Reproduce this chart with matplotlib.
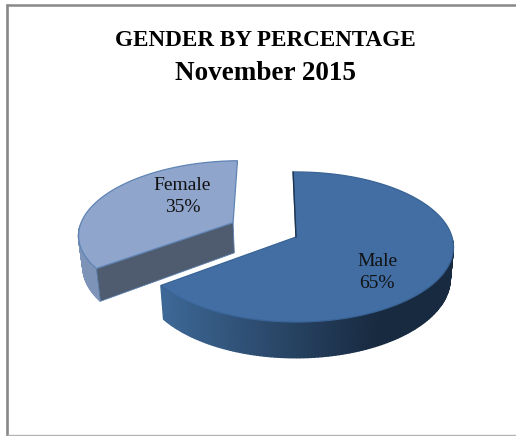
import numpy as np
import matplotlib
matplotlib.use("Agg")
import matplotlib.pyplot as plt
from matplotlib.patches import Polygon
from matplotlib.colors import to_rgb

categories = ["Male", "Female"]
values = [65, 35]
title_lines = ["GENDER BY PERCENTAGE", "November 2015"]

W, H = 516, 436
fig = plt.figure(figsize=(W / 100, H / 100), dpi=100)
ax = fig.add_axes([0, 0, 1, 1])
ax.set_xlim(0, W)
ax.set_ylim(H, 0)
ax.axis("off")
plt.rcParams["font.family"] = ["Liberation Serif", "DejaVu Serif"]

X0, Y0, A, B, K, DEPTH, EXPLODE, ROT = 296, 237, 73.7, 156, 0.133, 31, 0.46, -1.2


def project(u, v, drop=0.0):
    s = 1 / (1 + K * v)
    x = X0 + B * u * s
    y = Y0 - A * v * s
    return (X0 + (x - X0) * (1 - 0.02 * drop), y + DEPTH * s * drop)


def mix(a, b, t):
    a, b = np.array(to_rgb(a)), np.array(to_rgb(b))
    return tuple(a + (b - a) * t)


def wedge(start_frac, frac, explode):
    th = np.radians(np.linspace(start_frac * 360, (start_frac + frac) * 360, 200) + ROT)
    mid = np.radians((start_frac + frac / 2) * 360 + ROT)
    ox, oy = explode * np.sin(mid), explode * np.cos(mid)
    return ox, oy, ox + np.sin(th), oy + np.cos(th)


total = sum(values)
fracs = [v / total for v in values]

# Female slice (exploded)
ox, oy, us, vs = wedge(fracs[0], fracs[1], EXPLODE)
for i in range(len(us) - 1):
    if vs[i] - oy > -0.05:
        continue
    p = [project(us[i], vs[i]), project(us[i + 1], vs[i + 1]),
         project(us[i + 1], vs[i + 1], 1), project(us[i], vs[i], 1)]
    ax.add_patch(Polygon(p, closed=True, fc="#7E93B8", ec="#7E93B8", lw=1.0, zorder=2))
p = [project(ox, oy), project(us[0], vs[0]), project(us[0], vs[0], 1), project(ox, oy, 1)]
ax.add_patch(Polygon(p, closed=True, fc="#4F5B6F", ec="#5A7FAE", lw=0.6, zorder=3))
top_pts = [project(ox, oy)] + [project(u, v) for u, v in zip(us, vs)]
ax.add_patch(Polygon(top_pts, closed=True, fc="#8FA5CC", ec="#5F84B4", lw=0.9, zorder=4))

# Male slice
ox, oy, us, vs = wedge(0, fracs[0], 0)
xs = [project(u, v)[0] for u, v in zip(us, vs)]
xmin, xmax = min(xs), max(xs)
for i in range(len(us) - 1):
    if vs[i] > -0.05:
        continue
    t = (xs[i] - 166) / (xmax - 166)
    col = mix("#3D6795", "#182A40", min(1, max(0, t * 1.35)))
    p = [project(us[i], vs[i]), project(us[i + 1], vs[i + 1]),
         project(us[i + 1], vs[i + 1], 1), project(us[i], vs[i], 1)]
    ax.add_patch(Polygon(p, closed=True, fc=col, ec=col, lw=1.0, zorder=5))
top_pts = [project(ox, oy)] + [project(u, v) for u, v in zip(us, vs)]
ax.add_patch(Polygon(top_pts, closed=True, fc="#426EA4", ec="#3A6496", lw=0.9, zorder=6))
ax.plot([project(us[0], vs[0])[0], project(ox, oy)[0]],
        [project(us[0], vs[0])[1], project(ox, oy)[1]], color="#1F3550", lw=1.0, zorder=7)

# Labels
ax.text(377, 272.5, f"{categories[0]}\n{values[0]}%", ha="center", va="center", fontsize=14,
        color="#111111", linespacing=1.4, zorder=10)
ax.text(182.5, 196.5, f"{categories[1]}\n{values[1]}%", ha="center", va="center", fontsize=14,
        color="#111111", linespacing=1.4, zorder=10)

# Title
ax.text(265.5, 40, title_lines[0], ha="center", va="center", fontsize=16.7, fontweight="bold", color="black")
ax.text(265.5, 73, title_lines[1], ha="center", va="center", fontsize=19.5, fontweight="bold", color="black")

# Frame
ax.plot([7.3, 7.3], [4, 436], color="#888888", lw=1.9, solid_capstyle="butt", zorder=1)
ax.plot([6, 516], [5, 5], color="#888888", lw=1.8, solid_capstyle="butt", zorder=1)
ax.plot([7, 516], [435.2, 435.2], color="#B4B4B4", lw=1.0, solid_capstyle="butt", zorder=1)

fig.savefig("out.png", dpi=100)
